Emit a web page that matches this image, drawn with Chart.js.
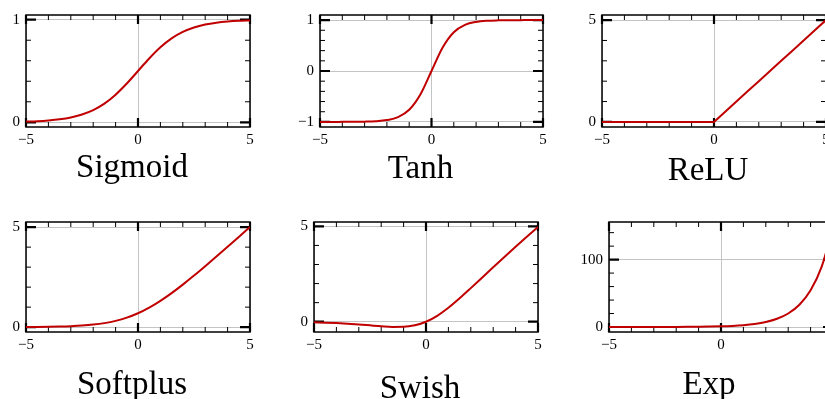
<!DOCTYPE html>
<html>
<head>
<meta charset="utf-8">
<title>Activation functions</title>
<script src="https://cdn.jsdelivr.net/npm/chart.js@4.4.1/dist/chart.umd.min.js"></script>
<style>
  html, body { margin: 0; padding: 0; background: #fff; overflow: hidden; }
  body { width: 825px; height: 399px; position: relative; }
  .panel { position: absolute; }
</style>
</head>
<body>
<script>
// sample points, x from -5 to 5
const xs = [-5, -4.5, -4, -3.5, -3, -2.5, -2, -1.5, -1, -0.5, 0, 0.5, 1, 1.5, 2, 2.5, 3, 3.5, 4, 4.5, 5];

const sigmoidY  = [0.007, 0.011, 0.018, 0.029, 0.047, 0.076, 0.119, 0.182, 0.269, 0.378, 0.5, 0.622, 0.731, 0.818, 0.881, 0.924, 0.953, 0.971, 0.982, 0.989, 0.993];
const tanhY     = [-1.0, -1.0, -0.999, -0.998, -0.995, -0.987, -0.964, -0.905, -0.762, -0.462, 0, 0.462, 0.762, 0.905, 0.964, 0.987, 0.995, 0.998, 0.999, 1.0, 1.0];
const reluY     = [0, 0, 0, 0, 0, 0, 0, 0, 0, 0, 0, 0.5, 1, 1.5, 2, 2.5, 3, 3.5, 4, 4.5, 5];
const softplusY = [0.007, 0.011, 0.018, 0.030, 0.049, 0.079, 0.127, 0.201, 0.313, 0.474, 0.693, 0.974, 1.313, 1.701, 2.127, 2.579, 3.049, 3.530, 4.018, 4.511, 5.007];
const swishY    = [-0.033, -0.050, -0.072, -0.102, -0.142, -0.190, -0.238, -0.273, -0.269, -0.189, 0, 0.311, 0.731, 1.227, 1.762, 2.310, 2.858, 3.399, 3.928, 4.450, 4.967];
const expY      = [0.007, 0.011, 0.018, 0.030, 0.050, 0.082, 0.135, 0.223, 0.368, 0.607, 1, 1.649, 2.718, 4.482, 7.389, 12.18, 20.09, 33.12, 54.60, 90.02, 148.4];

const titles = ['Sigmoid', 'Tanh', 'ReLU', 'Softplus', 'Swish', 'Exp'];

// ticks: every value gets a mark, labelled ones get a label + grid line
const xTicks = [-5, -4, -3, -2, -1, 0, 1, 2, 3, 4, 5];
const xLabels = [-5, 0, 5];
const unitTicks = [0, 0.2, 0.4, 0.6, 0.8, 1];
const unitLabels = [0, 1];
const tanhTicks = [-1, -0.8, -0.6, -0.4, -0.2, 0, 0.2, 0.4, 0.6, 0.8, 1];
const tanhLabels = [-1, 0, 1];
const fiveTicks = [0, 1, 2, 3, 4, 5];
const fiveLabels = [0, 5];
const expTicks = [0, 20, 40, 60, 80, 100, 120, 140];
const expLabels = [0, 100];

const FONT = "'Liberation Serif', 'Times New Roman', serif";
const RED = '#c00000';
const GRID = '#c4c4c4';
const X_AXIS_H = 22;
const PAD_TOP = 4, PAD_RIGHT = 6, PAD_BOTTOM = 56;

// plot area boxes [left, top, width, height], y-axis width, title offsets
const panels = [
  { y: sigmoidY,  yMin: -0.046, yMax: 1.046, ticks: unitTicks, labels: unitLabels, area: [26, 15, 224, 112],  yw: 26, dx: -6,  dy: 50 },
  { y: tanhY,     yMin: -1.1,   yMax: 1.1,   ticks: tanhTicks, labels: tanhLabels, area: [320, 15, 223, 112], yw: 34, dx: -11, dy: 51 },
  { y: reluY,     yMin: -0.25,  yMax: 5.25,  ticks: fiveTicks, labels: fiveLabels, area: [602, 15, 224, 112], yw: 34, dx: -6,  dy: 53, straight: true },
  { y: softplusY, yMin: -0.243, yMax: 5.257, ticks: fiveTicks, labels: fiveLabels, area: [26, 222, 224, 110], yw: 26, dx: -6,  dy: 62 },
  { y: swishY,    yMin: -0.54,  yMax: 5.23,  ticks: fiveTicks, labels: fiveLabels, area: [314, 222, 224, 110], yw: 34, dx: -6, dy: 66 },
  { y: expY,      yMin: -7.4,   yMax: 155.8, ticks: expTicks,  labels: expLabels,  area: [609, 222, 224, 110], yw: 34, dx: -12, dy: 62 },
];

const fmt = v => (v < 0 ? '\u2212' + Math.abs(v) : String(v));

// box around the plot, inward tick marks on all four sides, and the caption
const framePlugin = {
  id: 'frame',
  beforeDatasetsDraw(chart, args, opts) {
    const { ctx, chartArea: a } = chart;
    const sx = chart.scales.x, sy = chart.scales.y;
    ctx.save();
    ctx.strokeStyle = '#000';
    ctx.lineWidth = 1.5;
    ctx.strokeRect(a.left, a.top, a.right - a.left, a.bottom - a.top);
    sx.ticks.forEach(t => {
      const major = opts.xMajor.includes(t.value);
      const len = major ? 9 : 5;
      const px = sx.getPixelForValue(t.value);
      ctx.lineWidth = major ? 2.2 : 1;
      ctx.beginPath();
      ctx.moveTo(px, a.bottom); ctx.lineTo(px, a.bottom - len);
      ctx.moveTo(px, a.top); ctx.lineTo(px, a.top + len);
      ctx.stroke();
    });
    sy.ticks.forEach(t => {
      const major = opts.yMajor.includes(t.value);
      const len = major ? 10 : 5;
      const py = sy.getPixelForValue(t.value);
      ctx.lineWidth = major ? 2.2 : 1;
      ctx.beginPath();
      ctx.moveTo(a.left, py); ctx.lineTo(a.left + len, py);
      ctx.moveTo(a.right, py); ctx.lineTo(a.right - len, py);
      ctx.stroke();
    });
    ctx.restore();
  },
  afterDraw(chart, args, opts) {
    const { ctx, chartArea: a } = chart;
    ctx.save();
    ctx.fillStyle = '#000';
    ctx.font = '33px ' + FONT;
    ctx.textAlign = 'center';
    ctx.textBaseline = 'alphabetic';
    ctx.fillText(opts.title, (a.left + a.right) / 2 + opts.dx, a.bottom + opts.dy);
    ctx.restore();
  }
};

panels.forEach((p, i) => {
  const [left, top, w, h] = p.area;
  const div = document.createElement('div');
  div.className = 'panel';
  div.style.left = (left - p.yw) + 'px';
  div.style.top = (top - PAD_TOP) + 'px';
  div.style.width = (p.yw + w + PAD_RIGHT) + 'px';
  div.style.height = (PAD_TOP + h + X_AXIS_H + PAD_BOTTOM) + 'px';
  const canvas = document.createElement('canvas');
  div.appendChild(canvas);
  document.body.appendChild(div);

  new Chart(canvas, {
    type: 'line',
    data: {
      datasets: [{
        data: xs.map((x, k) => ({ x: x, y: p.y[k] })),
        borderColor: RED,
        borderWidth: 2,
        pointRadius: 0,
        fill: false,
        tension: 0,
        cubicInterpolationMode: p.straight ? 'default' : 'monotone',
      }]
    },
    options: {
      responsive: true,
      maintainAspectRatio: false,
      animation: false,
      layout: { padding: { top: PAD_TOP, right: PAD_RIGHT, bottom: PAD_BOTTOM, left: 0 } },
      plugins: {
        legend: { display: false },
        tooltip: { enabled: false },
        frame: { title: titles[i], dx: p.dx, dy: p.dy, xMajor: xLabels, yMajor: p.labels },
      },
      scales: {
        x: {
          type: 'linear',
          min: -5,
          max: 5,
          afterBuildTicks: s => { s.ticks = xTicks.map(v => ({ value: v })); },
          afterFit: s => { s.height = X_AXIS_H; s.paddingLeft = 0; s.paddingRight = 0; },
          border: { display: false },
          grid: {
            drawTicks: false,
            lineWidth: 1,
            color: c => (c.tick && xLabels.includes(c.tick.value) ? GRID : 'rgba(0,0,0,0)'),
          },
          ticks: {
            autoSkip: false,
            maxRotation: 0,
            padding: 4,
            color: '#000',
            font: { family: FONT, size: 15 },
            callback: v => (xLabels.includes(v) ? fmt(v) : ''),
          },
        },
        y: {
          type: 'linear',
          min: p.yMin,
          max: p.yMax,
          afterBuildTicks: s => { s.ticks = p.ticks.map(v => ({ value: v })); },
          afterFit: s => { s.width = p.yw; s.paddingTop = 0; s.paddingBottom = 0; },
          border: { display: false },
          grid: {
            drawTicks: false,
            lineWidth: 1,
            color: c => (c.tick && p.labels.includes(c.tick.value) ? GRID : 'rgba(0,0,0,0)'),
          },
          ticks: {
            autoSkip: false,
            padding: 6,
            color: '#000',
            font: { family: FONT, size: 15 },
            callback: v => (p.labels.includes(v) ? fmt(v) : ''),
          },
        },
      },
    },
    plugins: [framePlugin],
  });
});
</script>
</body>
</html>
